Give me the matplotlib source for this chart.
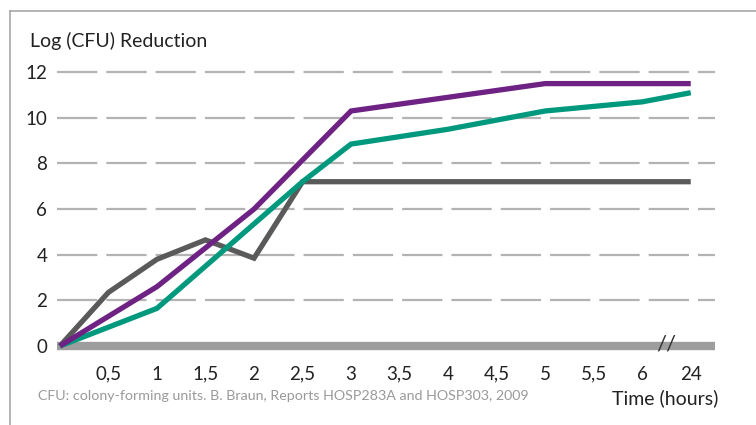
import matplotlib
matplotlib.use('Agg')
import matplotlib.pyplot as plt
from matplotlib.lines import Line2D

plt.rcParams['font.family'] = ['Lato', 'DejaVu Sans']
plt.rcParams['lines.scale_dashes'] = False

# tick labels along the time axis (the axis breaks between 6 and 24 hours)
tick_labels = ['', '0,5', '1', '1,5', '2', '2,5', '3', '3,5', '4', '4,5', '5', '5,5', '6', '24']
y_ticks = [0, 2, 4, 6, 8, 10, 12]

# series: hours, log reduction
purple_hours = [0, 1, 2, 3, 5, 24]
purple_vals = [0, 2.6, 6.0, 10.3, 11.5, 11.5]

teal_hours = [0, 1, 2.5, 3, 4, 5, 6, 24]
teal_vals = [0, 1.65, 7.2, 8.85, 9.5, 10.3, 10.7, 11.1]

grey_hours = [0, 0.5, 1, 1.5, 2, 2.5, 24]
grey_vals = [0, 2.35, 3.8, 4.65, 3.85, 7.2, 7.2]


def to_pos(hours):
    # 0.5 h per tick up to 6 h, then 24 h sits on the next tick
    return [h * 2 if h <= 6 else 13 for h in hours]


def main():
    fig = plt.figure(figsize=(7.56, 4.25), dpi=100)
    ax = fig.add_axes([57 / 756, 0.159, (715 - 57) / 756, 0.698])

    x0, x1 = -0.06, 13.5
    for y in y_ticks[1:]:
        ax.hlines(y, x0, x1, colors='#b3b3b3', lw=1.6, linestyles=(0, (29, 6.5)), zorder=1)
    ax.hlines(0, x0, x1, colors='#9d9d9d', lw=6, zorder=2)

    ax.plot(to_pos(grey_hours), grey_vals, color='#5a5a5a', lw=3.8, zorder=3,
            solid_joinstyle='miter', solid_capstyle='butt')
    ax.plot(to_pos(teal_hours), teal_vals, color='#00997e', lw=3.8, zorder=4,
            solid_joinstyle='miter', solid_capstyle='butt')
    ax.plot(to_pos(purple_hours), purple_vals, color='#6e2283', lw=3.8, zorder=5,
            solid_joinstyle='miter', solid_capstyle='butt')

    # axis break mark
    ax.text(12.5, 0.05, '//', ha='center', va='center', fontsize=16, color='#333333',
            zorder=6)

    ax.set_xlim(x0, x1)
    ax.set_ylim(-0.5, 12.5)
    ax.set_xticks(range(len(tick_labels)))
    ax.set_xticklabels(tick_labels)
    ax.set_yticks(y_ticks)
    ax.tick_params(length=0, labelsize=13.5, labelcolor='#222222')
    ax.tick_params(axis='y', pad=7)
    ax.tick_params(axis='x', pad=6)
    for s in ax.spines.values():
        s.set_visible(False)

    fig.text(30 / 756, 1 - 47 / 425, 'Log (CFU) Reduction', fontsize=14,
             color='#222222', va='baseline')
    fig.text(38 / 756, 1 - 396 / 425,
             'CFU: colony-forming units. B. Braun, Reports HOSP283A and HOSP303, 2009',
             fontsize=10.3, color='#9a9a9a', va='center')
    fig.text(718 / 756, 1 - 398 / 425, 'Time (hours)', fontsize=14,
             color='#222222', va='center', ha='right')

    # frame lines top and left
    fig.add_artist(Line2D([10 / 756, 1], [1 - 11 / 425] * 2, color='#a0a0a0', lw=1.1))
    fig.add_artist(Line2D([10 / 756] * 2, [0, 1 - 11 / 425], color='#a0a0a0', lw=1.1))

    fig.savefig('out.png', dpi=100)


if __name__ == "__main__":
    main()
